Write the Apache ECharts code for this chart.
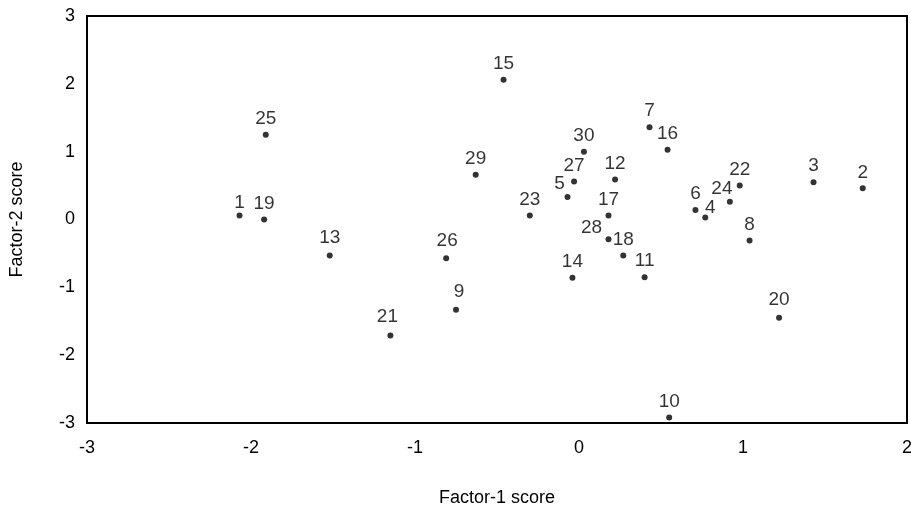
<!DOCTYPE html>
<html>
<head>
<meta charset="utf-8">
<script src="https://cdn.jsdelivr.net/npm/echarts@6/dist/echarts.min.js"></script>
<style>html,body{margin:0;padding:0;background:#fff;}#c{width:911px;height:510px;}</style>
</head>
<body>
<div id="c"></div>
<script>
// Observation ids
const ids = ['1','2','3','4','5','6','7','8','9','10','11','12','13','14','15','16','17','18','19','20','21','22','23','24','25','26','27','28','29','30'];
// Factor-1 scores (x)
const factor1 = [-2.07, 1.73, 1.43, 0.77, -0.07, 0.71, 0.43, 1.04, -0.75, 0.55, 0.40, 0.22, -1.52, -0.04, -0.46, 0.54, 0.18, 0.27, -1.92, 1.22, -1.15, 0.98, -0.30, 0.92, -1.91, -0.81, -0.03, 0.18, -0.63, 0.03];
// Factor-2 scores (y)
const factor2 = [0.06, 0.46, 0.55, 0.03, 0.33, 0.14, 1.36, -0.31, -1.33, -2.92, -0.85, 0.59, -0.53, -0.86, 2.06, 1.03, 0.06, -0.53, 0.00, -1.45, -1.71, 0.50, 0.06, 0.26, 1.25, -0.57, 0.56, -0.29, 0.66, 1.00];
// Axis tick values
const xTicks = [-3, -2, -1, 0, 1, 2];
const yTicks = [-3, -2, -1, 0, 1, 2, 3];

// label placement (styling, not data)
const defaultOffset = [0, -16];
const labelOffsets = {'1':[0,-13],'5':[-8,-13],'28':[-17,-11],'4':[5,-10],'24':[-8,-13],'21':[-3,-19],'13':[0,-18],'20':[0,-18],'9':[3,-18],'26':[1,-17.5]};

const FONT = '"Liberation Sans", Arial, sans-serif';
const data = ids.map((id, i) => ({
  value: [factor1[i], factor2[i]],
  name: id,
  label: { offset: labelOffsets[id] || defaultOffset }
}));

const chart = echarts.init(document.getElementById('c'), null, {renderer: 'canvas'});
chart.setOption({
  animation: false,
  backgroundColor: '#fff',
  grid: { left: 87, right: 4, top: 16, bottom: 87, containLabel: false, outerBoundsMode: 'none', show: true, borderColor: '#000', borderWidth: 2, backgroundColor: 'transparent' },
  xAxis: {
    type: 'value', min: xTicks[0], max: xTicks[xTicks.length-1], interval: 1,
    name: 'Factor-1 score', nameLocation: 'middle', nameGap: 66,
    nameTextStyle: { fontFamily: FONT, fontSize: 18, color: '#000' },
    axisLine: { show: true, onZero: false, lineStyle: { color: '#000', width: 2 } },
    axisTick: { show: false },
    splitLine: { show: false },
    axisLabel: { fontFamily: FONT, fontSize: 18, color: '#000', margin: 16 }
  },
  yAxis: {
    type: 'value', min: yTicks[0], max: yTicks[yTicks.length-1], interval: 1,
    name: 'Factor-2 score', nameLocation: 'middle', nameGap: 61, nameRotate: 90,
    nameTextStyle: { fontFamily: FONT, fontSize: 18, color: '#000' },
    axisLine: { show: true, onZero: false, lineStyle: { color: '#000', width: 2 } },
    axisTick: { show: false },
    splitLine: { show: false },
    axisLabel: { fontFamily: FONT, fontSize: 18, color: '#000', margin: 12 }
  },
  series: [{
    type: 'scatter',
    data: data,
    symbol: 'circle',
    symbolSize: 6,
    itemStyle: { color: '#000' },
    label: {
      show: true,
      position: 'inside',
      formatter: p => p.name,
      fontFamily: FONT, fontSize: 19, color: '#000'
    }
  }]
});
</script>
</body>
</html>
